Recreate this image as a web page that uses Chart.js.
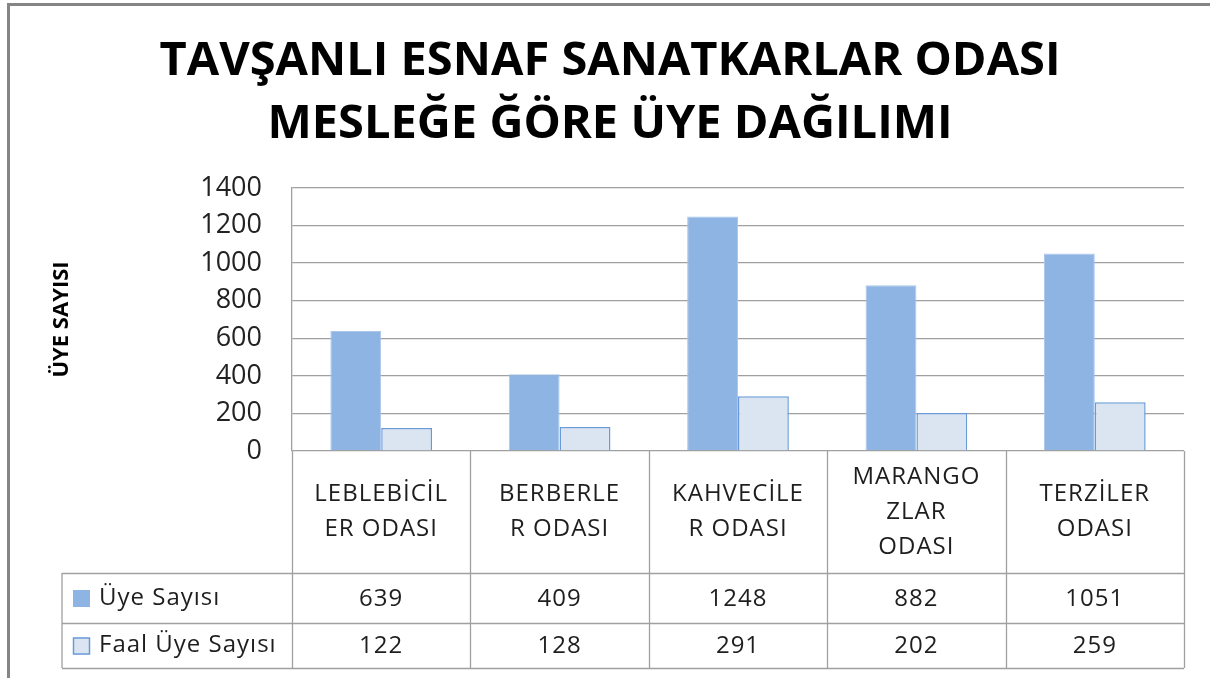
<!DOCTYPE html>
<html>
<head>
<meta charset="utf-8">
<title>Tavşanlı Esnaf Sanatkarlar Odası</title>
<script src="https://cdn.jsdelivr.net/npm/chart.js@4.4.1/dist/chart.umd.min.js"></script>
<style>
  html, body { margin: 0; padding: 0; background: #fff; }
  canvas { display: block; }
</style>
</head>
<body>
<canvas id="chart" width="1210" height="678"></canvas>
<script>
// categories, shown wrapped as in the original table
const categories = [
    ['LEBLEBİCİL', 'ER ODASI'],
    ['BERBERLE', 'R ODASI'],
    ['KAHVECİLE', 'R ODASI'],
    ['MARANGO', 'ZLAR', 'ODASI'],
    ['TERZİLER', 'ODASI']
];
const uyeSayisi = [639, 409, 1248, 882, 1051];
const faalUyeSayisi = [122, 128, 291, 202, 259];
const seriesNames = ['Üye Sayısı', 'Faal Üye Sayısı'];
const yTicks = [0, 200, 400, 600, 800, 1000, 1200, 1400];

const FONT = "'Open Sans', 'DejaVu Sans', sans-serif";
const gridColor = '#a0a0a0';

const colors = [
    { fill: '#8eb4e3', border: '#a9c6ec' },
    { fill: '#dbe5f1', border: '#6a9bd8' }
];

// frame round the chart
const framePlugin = {
    id: 'frame',
    beforeDraw(chart) {
        const ctx = chart.ctx;
        ctx.save();
        ctx.fillStyle = '#fff';
        ctx.fillRect(0, 0, chart.width, chart.height);
        ctx.fillStyle = '#858585';
        ctx.fillRect(7, 3, chart.width - 7, 3);
        ctx.fillRect(7, 3, 3, chart.height - 3);
        ctx.restore();
    }
};

// data table under the plot (category headers, values, legend keys)
const tablePlugin = {
    id: 'dataTable',
    afterDraw(chart) {
        const ctx = chart.ctx;
        const x = chart.scales.x;
        const area = chart.chartArea;
        const catW = x.getPixelForValue(1) - x.getPixelForValue(0);
        const top = area.bottom;
        const row1 = top + 122;
        const row2 = row1 + 50;
        const bottom = row2 + 45;
        const legendLeft = 62;

        ctx.save();
        ctx.strokeStyle = gridColor;
        ctx.lineWidth = 1.3;
        ctx.beginPath();
        for (let i = 0; i <= categories.length; i++) {
            const px = Math.round(area.left + i * catW) + 0.5;
            ctx.moveTo(px, top);
            ctx.lineTo(px, bottom);
        }
        ctx.moveTo(legendLeft, row1);
        ctx.lineTo(legendLeft, bottom);
        [row1, row2, bottom].forEach(py => {
            ctx.moveTo(legendLeft, Math.round(py) + 0.5);
            ctx.lineTo(area.right, Math.round(py) + 0.5);
        });
        ctx.stroke();

        ctx.fillStyle = '#1e1e1e';
        ctx.font = '24px ' + FONT;
        ctx.letterSpacing = '1px';
        ctx.textAlign = 'center';
        ctx.textBaseline = 'middle';
        const headMid = (top + row1) / 2;
        const lh = 35;
        categories.forEach((lines, i) => {
            const cx = x.getPixelForValue(i);
            lines.forEach((t, j) => {
                ctx.fillText(t, cx, headMid + (j - (lines.length - 1) / 2) * lh);
            });
            ctx.fillText(String(uyeSayisi[i]), cx, (row1 + row2) / 2 + 1);
            ctx.fillText(String(faalUyeSayisi[i]), cx, (row2 + bottom) / 2 + 1);
        });

        ctx.textAlign = 'left';
        [[row1, row2], [row2, bottom]].forEach(([a, b], k) => {
            const my = (a + b) / 2;
            ctx.fillStyle = colors[k].fill;
            ctx.fillRect(73, my - 8, 17, 17);
            if (k === 1) {
                ctx.strokeStyle = colors[k].border;
                ctx.lineWidth = 1.5;
                ctx.strokeRect(73.5, my - 7.5, 16, 16);
            }
            ctx.fillStyle = '#1e1e1e';
            ctx.fillText(seriesNames[k], 99, my);
        });
        ctx.restore();
    }
};

new Chart(document.getElementById('chart'), {
    type: 'bar',
    data: {
        labels: categories,
        datasets: [
            {
                label: seriesNames[0],
                data: uyeSayisi,
                backgroundColor: colors[0].fill,
                borderColor: colors[0].border,
                borderWidth: 1
            },
            {
                label: seriesNames[1],
                data: faalUyeSayisi,
                backgroundColor: colors[1].fill,
                borderColor: colors[1].border,
                borderWidth: 1.5
            }
        ]
    },
    options: {
        responsive: false,
        animation: false,
        devicePixelRatio: 1,
        layout: { padding: { left: 36, right: 26, top: 0, bottom: 227 } },
        datasets: {
            bar: { categoryPercentage: 0.57, barPercentage: 1 }
        },
        plugins: {
            legend: { display: false },
            tooltip: { enabled: false },
            title: {
                display: true,
                text: ['TAVŞANLI ESNAF SANATKARLAR ODASI', 'MESLEĞE ĞÖRE ÜYE DAĞILIMI'],
                color: '#000',
                font: { family: FONT, size: 47, weight: 'bold', lineHeight: 1.34 },
                padding: { top: 30, bottom: 32 }
            }
        },
        scales: {
            x: {
                display: false
            },
            y: {
                min: 0,
                max: 1400,
                afterBuildTicks(scale) {
                    scale.ticks = yTicks.map(v => ({ value: v }));
                },
                afterFit(scale) {
                    scale.width = 256;
                },
                grid: { color: gridColor, lineWidth: 1.3, drawTicks: false },
                border: { display: true, color: gridColor, width: 1.3 },
                ticks: {
                    padding: 30,
                    color: '#222',
                    font: { family: FONT, size: 27 },
                    callback: v => String(v)
                },
                title: {
                    display: true,
                    text: 'ÜYE SAYISI',
                    color: '#000',
                    font: { family: FONT, size: 22, weight: 'bold' },
                    padding: { top: 13, bottom: 0 }
                }
            }
        }
    },
    plugins: [framePlugin, tablePlugin]
});
</script>
</body>
</html>
